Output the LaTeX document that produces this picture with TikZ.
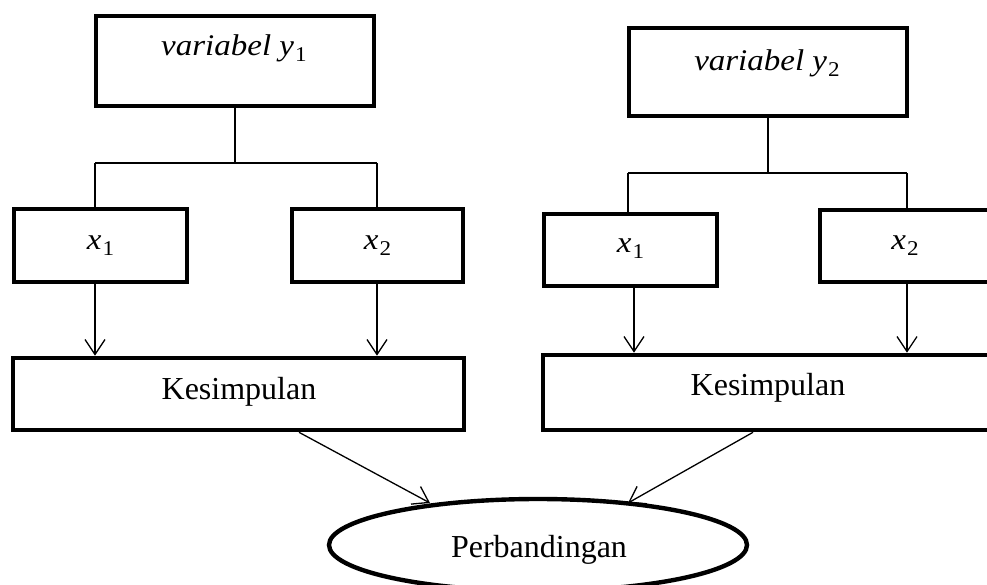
\documentclass[tikz,border=0pt]{standalone}
\usepackage{fontspec}
\setmainfont{Liberation Serif}
\usetikzlibrary{arrows.meta,shapes.geometric}
\newcommand{\stx}[1]{\scalebox{1.1}[1]{#1}}
\newcommand{\subnum}[1]{\kern1pt\raisebox{-0.2em}{\fontsize{21}{22}\selectfont\upshape #1}}
\tikzset{
  box/.style={draw, rectangle, line width=4.6pt, inner sep=0pt},
  conn/.style={line width=1.3pt},
  arr/.style={line width=1.3pt, -{Straight Barb[length=15pt,width=20pt,line width=1.3pt]}},
  mtxt/.style={font=\fontsize{30}{32}\selectfont\itshape, inner sep=0pt, anchor=base},
  ttxt/.style={font=\fontsize{32}{36}\selectfont, inner sep=0pt, anchor=base},
}
\begin{document}
\begin{tikzpicture}[x=1pt,y=-1pt]
\useasboundingbox (0,0) rectangle (987,585);
\clip (0,0) rectangle (987,585);
% ---------- left tree ----------
\node[box, minimum width=278pt, minimum height=90pt] (yL) at (235,61) {};
\node[mtxt] (tyL) at (234,56) {\stx{variabel y\subnum{1}}};
\node[box, minimum width=173pt, minimum height=73pt] (x1L) at (100.5,245.5) {};
\node[mtxt] (tx1L) at (100.5,250) {\stx{x\subnum{1}}};
\node[box, minimum width=171pt, minimum height=73pt] (x2L) at (377.5,245.5) {};
\node[mtxt] (tx2L) at (377.5,250) {\stx{x\subnum{2}}};
\node[box, minimum width=451pt, minimum height=72pt] (kL) at (238.5,394) {};
\node[ttxt] (tkL) at (239,399) {Kesimpulan};
\coordinate (jL) at (235,163);
\coordinate (aL) at (95,163);
\coordinate (bL) at (377,163);
\draw[conn] (yL.south) -- (jL);
\draw[conn] (aL) -- (bL);
\draw[conn] (aL) -- (aL |- x1L.north);
\draw[conn] (bL) -- (bL |- x2L.north);
\draw[arr] (aL |- x1L.south) -- (aL |- kL.north);
\draw[arr] (bL |- x2L.south) -- (bL |- kL.north);
% ---------- right tree ----------
\node[box, minimum width=278pt, minimum height=88pt] (yR) at (768,72) {};
\node[mtxt] (tyR) at (767,71) {\stx{variabel y\subnum{2}}};
\node[box, minimum width=173pt, minimum height=72pt] (x1R) at (630.5,250) {};
\node[mtxt] (tx1R) at (630.5,253) {\stx{x\subnum{1}}};
\node[box, minimum width=170pt, minimum height=72pt] (x2R) at (905,246) {};
\node[mtxt] (tx2R) at (905,250) {\stx{x\subnum{2}}};
\node[box, minimum width=450pt, minimum height=75pt] (kR) at (768,392.5) {};
\node[ttxt] (tkR) at (768,395) {Kesimpulan};
\coordinate (jR) at (768,173);
\coordinate (aR) at (628,173);
\coordinate (bR) at (907,173);
\coordinate (cR) at (634,300);
\draw[conn] (yR.south) -- (jR);
\draw[conn] (aR) -- (bR);
\draw[conn] (aR) -- (aR |- x1R.north);
\draw[conn] (bR) -- (bR |- x2R.north);
\draw[arr] (cR |- x1R.south) -- (cR |- kR.north);
\draw[arr] (bR |- x2R.south) -- (bR |- kR.north);
% ---------- comparison ----------
\node[draw, ellipse, line width=4.4pt, inner sep=0pt, minimum width=418pt, minimum height=92pt] (ell) at (538,545) {};
\node[ttxt] (tell) at (539,557) {Perbandingan};
\coordinate (sL) at (299,432);
\coordinate (sR) at (753,432);
\coordinate (tL) at (430,503);
\coordinate (tR) at (628,503);
\draw[arr] (sL |- kL.south) -- (tL);
\draw[arr] (sR |- kR.south) -- (tR);
\end{tikzpicture}
\end{document}
